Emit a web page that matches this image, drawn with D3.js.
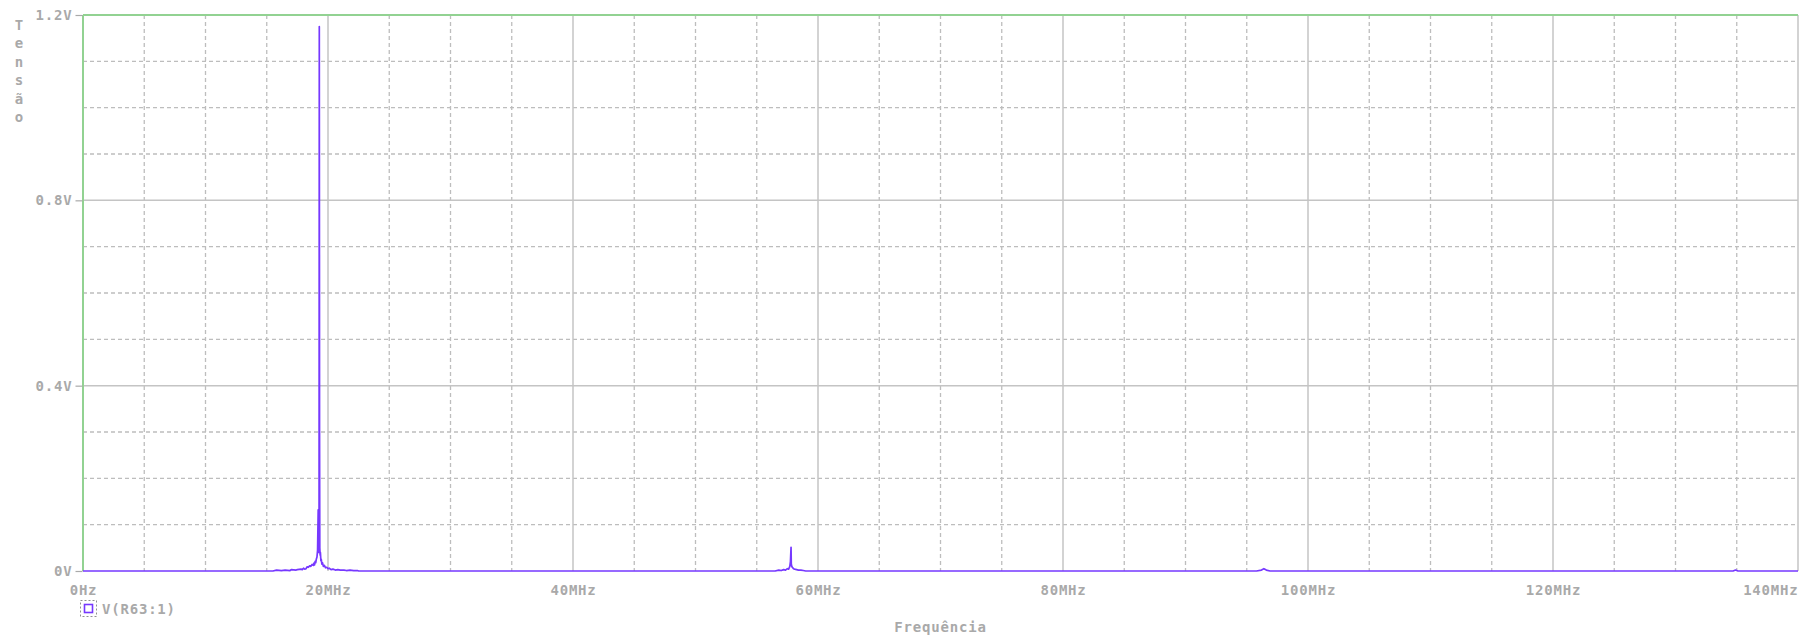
<!DOCTYPE html>
<html>
<head>
<meta charset="utf-8">
<script src="https://cdn.jsdelivr.net/npm/d3@7"></script>
<style>
  html, body { margin: 0; padding: 0; background: #ffffff; }
  svg { display: block; }
  text { font-family: "DejaVu Sans Mono", monospace; font-weight: bold; fill: #a9a9a9; }
</style>
</head>
<body>
<svg id="chart" width="1803" height="638"></svg>
<script>
// Spectrum of V(R63:1): frequency (MHz) and amplitude (V) samples
const freqMHz = [
  0, 15.5, 15.8, 16.2, 16.5, 16.9, 17.0, 17.4, 17.5, 17.8, 17.9, 18.0, 18.1, 18.2, 18.3, 18.4,
  18.5, 18.6, 18.7, 18.8, 18.85, 18.9, 18.95, 19.0, 19.05, 19.1,
  19.15, 19.2, 19.22, 19.25, 19.27, 19.29, 19.31, 19.33, 19.36, 19.38, 19.42, 19.45, 19.5,
  19.55, 19.62, 19.7, 19.8, 19.9, 20.0,
  20.1, 20.25, 20.4, 20.6, 20.8, 21.0, 21.3, 21.5, 21.8, 22.1, 22.4, 22.5,
  56.5, 56.8, 57.0, 57.2, 57.35, 57.5, 57.6, 57.7, 57.75, 57.8, 57.82, 57.86, 57.9, 58.0, 58.1,
  58.25, 58.4, 58.6, 58.8, 59.0,
  95.8, 96.2, 96.4, 96.6, 96.9,
  134.7, 134.9, 135.1, 140
];
const voltage = [
  0, 0, 0.002, 0.001, 0.002, 0.001, 0.003, 0.002, 0.003, 0.004, 0.003, 0.006, 0.004, 0.005, 0.009, 0.008,
  0.011, 0.010, 0.014, 0.012, 0.017, 0.013, 0.021, 0.018, 0.026, 0.030,
  0.045, 0.132, 0.060, 0.040, 0.080, 1.175, 0.300, 0.050, 0.034, 0.040, 0.022, 0.025, 0.015,
  0.018, 0.010, 0.012, 0.007, 0.008, 0.005,
  0.006, 0.003, 0.004, 0.002, 0.003, 0.002, 0.002, 0.001, 0.002, 0.001, 0.001, 0,
  0, 0.002, 0.001, 0.003, 0.002, 0.005, 0.004, 0.010, 0.020, 0.051, 0.015, 0.010, 0.008, 0.005, 0.004,
  0.003, 0.002, 0.002, 0.001, 0,
  0, 0.002, 0.005, 0.002, 0,
  0, 0.002, 0, 0
];

const xMajorTicks = [0, 20, 40, 60, 80, 100, 120, 140];
const xTickLabels = ["0Hz", "20MHz", "40MHz", "60MHz", "80MHz", "100MHz", "120MHz", "140MHz"];
const yMajorTicks = [0, 0.4, 0.8, 1.2];
const yTickLabels = ["0V", "0.4V", "0.8V", "1.2V"];
const xMinorTicks = d3.range(0, 141, 5).filter(v => v % 20 !== 0);
const yMinorTicks = [0.1, 0.2, 0.3, 0.5, 0.6, 0.7, 0.9, 1.0, 1.1];

const traceName = "V(R63:1)";
const xTitle = "Frequência";
const yTitle = "Tensão";

const margin = { left: 83, right: 5, top: 15, bottom: 67 };
const W = 1803, H = 638;
const svg = d3.select("#chart");

const x = d3.scaleLinear().domain([0, 140]).range([margin.left, W - margin.right]);
const y = d3.scaleLinear().domain([0, 1.2]).range([H - margin.bottom, margin.top]);

const gridCol = "#bdbdbd";

// minor dashed grid
svg.append("g").selectAll("line").data(xMinorTicks).join("line")
  .attr("x1", d => x(d)).attr("x2", d => x(d))
  .attr("y1", y(1.2)).attr("y2", y(0))
  .attr("stroke", gridCol).attr("stroke-width", 1.3).attr("stroke-dasharray", "4,3");
svg.append("g").selectAll("line").data(yMinorTicks).join("line")
  .attr("x1", x(0)).attr("x2", x(140))
  .attr("y1", d => y(d)).attr("y2", d => y(d))
  .attr("stroke", gridCol).attr("stroke-width", 1.3).attr("stroke-dasharray", "4,3");

// major solid grid
svg.append("g").selectAll("line").data(xMajorTicks.slice(1)).join("line")
  .attr("x1", d => x(d)).attr("x2", d => x(d))
  .attr("y1", y(1.2)).attr("y2", y(0))
  .attr("stroke", "#c4c4c4").attr("stroke-width", 1.5);
svg.append("g").selectAll("line").data(yMajorTicks.slice(1, 3)).join("line")
  .attr("x1", x(0)).attr("x2", x(140))
  .attr("y1", d => y(d)).attr("y2", d => y(d))
  .attr("stroke", "#c4c4c4").attr("stroke-width", 1.5);

// frame: green top and left edges
svg.append("line").attr("x1", x(0)).attr("x2", x(140)).attr("y1", y(1.2)).attr("y2", y(1.2))
  .attr("stroke", "#92d292").attr("stroke-width", 2);
svg.append("line").attr("x1", x(0)).attr("x2", x(0)).attr("y1", y(1.2)).attr("y2", y(0))
  .attr("stroke", "#92d292").attr("stroke-width", 2);

// y axis ticks and labels
const yAxis = d3.axisLeft(y).tickValues(yMajorTicks)
  .tickFormat((d, i) => yTickLabels[i]).tickSize(7).tickPadding(3);
const gy = svg.append("g").attr("transform", `translate(${x(0) - 0.5},0)`).call(yAxis);
gy.select(".domain").remove();
gy.selectAll(".tick line").attr("stroke", "#a9a9a9").attr("stroke-width", 1.2);
gy.selectAll(".tick text").attr("font-size", 14).attr("fill", "#a9a9a9")
  .attr("font-family", "DejaVu Sans Mono, monospace").attr("font-weight", "bold")
  .attr("letter-spacing", "0.8px");

// x axis labels
const xAxis = d3.axisBottom(x).tickValues(xMajorTicks)
  .tickFormat((d, i) => xTickLabels[i]).tickSize(0).tickPadding(14);
const gx = svg.append("g").attr("transform", `translate(0,${y(0)})`).call(xAxis);
gx.select(".domain").remove();
gx.selectAll(".tick text").attr("font-size", 14).attr("fill", "#a9a9a9")
  .attr("font-family", "DejaVu Sans Mono, monospace").attr("font-weight", "bold")
  .attr("letter-spacing", "0.8px")
  .attr("text-anchor", (d, i) => i === xMajorTicks.length - 1 ? "end" : "middle");

// trace
const pts = freqMHz.map((f, i) => [f, voltage[i]]);
const line = d3.line().x(d => x(d[0])).y(d => y(d[1]));
svg.append("path").datum(pts).attr("d", line)
  .attr("fill", "none").attr("stroke", "#7638ff").attr("stroke-width", 1.7)
  .attr("stroke-linejoin", "round");

// y title: letters stacked vertically
const yChars = Array.from(yTitle);
svg.append("g").selectAll("text").data(yChars).join("text")
  .attr("x", 19).attr("y", (d, i) => 30 + i * 18.4)
  .attr("text-anchor", "middle").attr("font-size", 14).text(d => d);

// x title
svg.append("text").attr("x", (x(0) + x(140)) / 2).attr("y", 632)
  .attr("text-anchor", "middle").attr("font-size", 14).attr("letter-spacing", "0.8px").text(xTitle);

// legend
const lg = svg.append("g").attr("transform", "translate(80,600)");
lg.append("rect").attr("x", 0.5).attr("y", 0.5).attr("width", 16).attr("height", 16)
  .attr("fill", "none").attr("stroke", "#909090").attr("stroke-width", 1).attr("stroke-dasharray", "2,2");
lg.append("rect").attr("x", 4.5).attr("y", 4.5).attr("width", 8).attr("height", 8)
  .attr("fill", "none").attr("stroke", "#7638ff").attr("stroke-width", 1.6);
lg.append("text").attr("x", 22).attr("y", 14).attr("font-size", 14)
  .attr("letter-spacing", "0.8px").text(traceName);
</script>
</body>
</html>
